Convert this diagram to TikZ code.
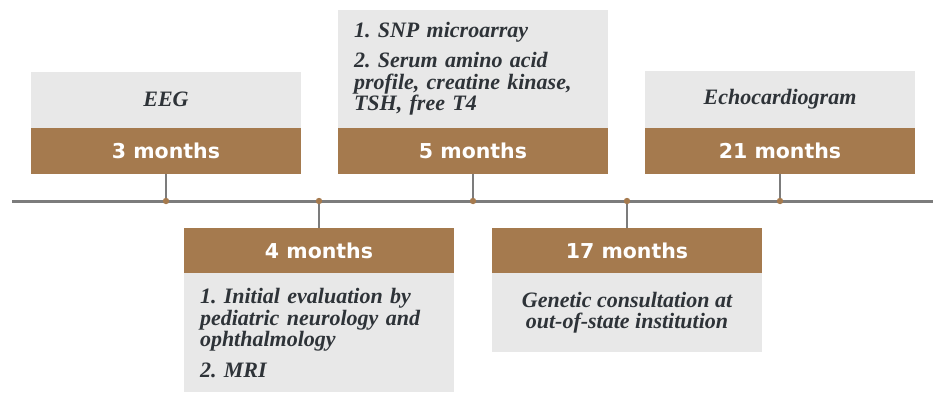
\documentclass[tikz,border=0pt]{standalone}
\usepackage{fontspec}
\newfontfamily\notefont{Liberation Serif}
\newfontfamily\monthfont{DejaVu Sans}
\definecolor{monthbrown}{HTML}{A57A4E}
\definecolor{notegray}{HTML}{E8E8E8}
\definecolor{linegray}{HTML}{7C7C7C}
\definecolor{notetext}{HTML}{2E3338}
\frenchspacing
\tikzset{
  monthbox/.style={fill=monthbrown, text=white, minimum width=270pt, minimum height=46pt,
    inner sep=0pt, font=\monthfont\bfseries\fontsize{20.5}{24}\selectfont},
  notebox/.style={fill=notegray, text=notetext, minimum width=270pt, inner sep=0pt,
    font=\notefont\bfseries\itshape\fontsize{22}{21.5}\selectfont},
  stem/.style={linegray, line width=1.5pt},
  event/.style={fill=monthbrown}
}
\begin{document}
\begin{tikzpicture}[x=1pt, y=-1pt]
    \useasboundingbox (0,0) rectangle (933,392);

    % Month boxes
    \node[monthbox] (m3) at (166,151) {3 months};
    \node[monthbox] (m5) at (473,151) {5 months};
    \node[monthbox] (m21) at (780,151) {21 months};
    \node[monthbox, minimum height=45pt] (m4) at (319,250.5) {4 months};
    \node[monthbox, minimum height=45pt] (m17) at (627,250.5) {17 months};

    % Notes above the timeline
    \node[notebox, minimum height=56pt, anchor=south] (eeg) at (m3.north) {EEG};
    \node[notebox, minimum height=118pt, anchor=south, text width=238pt, align=left] (snp) at (m5.north)
      {1. SNP microarray\\[9pt]
       2. Serum amino acid\\profile, creatine kinase,\\TSH, free T4};
    \node[notebox, minimum height=57pt, anchor=south] (echo) at (m21.north) {Echocardiogram};

    % Notes below the timeline
    \node[notebox, minimum height=119pt, anchor=north, text width=238pt, align=left] (neuro) at (m4.south)
      {1. Initial evaluation by\\pediatric neurology and\\ophthalmology\\[9pt]
       2. MRI};
    \node[notebox, minimum height=79pt, anchor=north, align=center] (genetic) at (m17.south)
      {Genetic consultation at\\out-of-state institution};

    % Timeline
    \coordinate (tstart) at (12,201);
    \coordinate (tend) at (933,201);
    \draw[linegray, line width=3pt] (tstart) -- (tend);

    % Points on the timeline
    \coordinate (t3) at (166,201);
    \coordinate (t4) at (319,201);
    \coordinate (t5) at (473,201);
    \coordinate (t17) at (627,201);
    \coordinate (t21) at (780,201);

    % Stems
    \draw[stem] (t3) -- (m3.south);
    \draw[stem] (t5) -- (m5.south);
    \draw[stem] (t21) -- (m21.south);
    \draw[stem] (t4) -- (m4.north);
    \draw[stem] (t17) -- (m17.north);

    \foreach \t in {t3,t4,t5,t17,t21}
      \fill[event] (\t) circle (3.2pt);
  \end{tikzpicture}
\end{document}
